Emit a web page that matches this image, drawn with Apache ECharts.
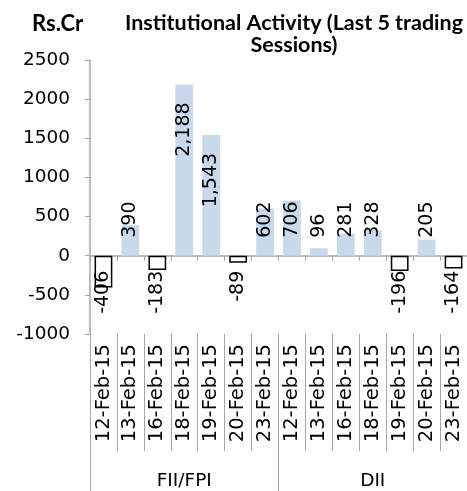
<!DOCTYPE html>
<html>
<head>
<meta charset="utf-8">
<script src="https://cdn.jsdelivr.net/npm/echarts@6/dist/echarts.min.js"></script>
<style>html,body{margin:0;padding:0;background:#fff}#c{width:467px;height:491px}</style>
</head>
<body>
<div id="c"></div>
<script>
const groups = ['FII/FPI', 'DII'];
const dates = ['12-Feb-15', '13-Feb-15', '16-Feb-15', '18-Feb-15', '19-Feb-15', '20-Feb-15', '23-Feb-15'];
const fiiValues = [-406, 390, -183, 2188, 1543, -89, 602];
const diiValues = [706, 96, 281, 328, -196, 205, -164];
const yTicks = { min: -1000, max: 2500, interval: 500 };

const categories = dates.map(d => 'FII ' + d).concat(dates.map(d => 'DII ' + d));
const values = fiiValues.concat(diiValues);

const FONT = 'DejaVu Sans';
const AXIS = '#a6a6a6';

function fmt(v) {
  const s = Math.abs(v).toLocaleString('en-US');
  return (v < 0 ? '-' : '') + s;
}

const data = values.map(v => {
  let label;
  if (v < 0) {
    label = { position: 'insideTop', align: 'right', distance: 15 };
  } else if (v >= 1000) {
    label = { position: 'insideTop', align: 'right', distance: 18 };
  } else {
    label = { position: 'insideBottom', align: 'left', distance: 18 };
  }
  return {
    value: v,
    itemStyle: v < 0 ? { color: '#ffffff', borderColor: '#000000', borderWidth: 1.5 } : { color: '#c9d9ec' },
    label: label
  };
});

const chart = echarts.init(document.getElementById('c'), null, { renderer: 'canvas' });
chart.setOption({
  animation: false,
  title: [
    { text: 'Rs.Cr', left: 27, top: 8, textStyle: { fontFamily: 'Lato', fontWeight: 'bold', fontSize: 22, color: '#000' } },
    { text: 'Institutional Activity (Last 5 trading\nSessions)', left: 289, top: 7, textAlign: 'center',
      textStyle: { fontFamily: 'Lato', fontWeight: 'bold', fontSize: 21.5, lineHeight: 22, color: '#000' } }
  ],
  grid: { left: 90, top: 60, width: 381, height: 275, containLabel: false },
  xAxis: [
    {
      type: 'category', data: categories, position: 'bottom',
      axisLine: { onZero: true, lineStyle: { color: AXIS, width: 1.5 } },
      axisTick: { show: true, interval: 0, length: 5, lineStyle: { color: AXIS } },
      axisLabel: { show: false }
    },
    {
      type: 'category', data: categories, position: 'bottom',
      axisLine: { show: false, onZero: false },
      axisTick: { show: true, interval: 0, length: 117, lineStyle: { color: AXIS } },
      axisLabel: { show: true, interval: 0, rotate: 90, margin: 10, fontFamily: FONT, fontSize: 19.5, color: '#000',
        formatter: v => v.split(' ')[1] }
    },
    {
      type: 'category', data: groups, position: 'bottom',
      axisLine: { show: false, onZero: false },
      axisTick: { show: true, interval: 0, length: 160, lineStyle: { color: AXIS } },
      axisLabel: { show: true, interval: 0, margin: 138, fontFamily: FONT, fontSize: 18.5, color: '#000' }
    }
  ],
  yAxis: {
    type: 'value', min: yTicks.min, max: yTicks.max, interval: yTicks.interval,
    axisLine: { show: true, lineStyle: { color: AXIS, width: 1.5 } },
    axisTick: { show: true, length: 5, lineStyle: { color: AXIS } },
    splitLine: { show: false },
    axisLabel: { margin: 20, fontFamily: FONT, fontSize: 18.5, color: '#000', formatter: v => String(v) }
  },
  series: [{
    type: 'bar', xAxisIndex: 0, yAxisIndex: 0,
    data: data, barCategoryGap: '34%',
    label: { show: true, rotate: 90, verticalAlign: 'middle', fontFamily: FONT, fontSize: 19, color: '#000',
      formatter: p => fmt(p.value) }
  }]
});
</script>
</body>
</html>
